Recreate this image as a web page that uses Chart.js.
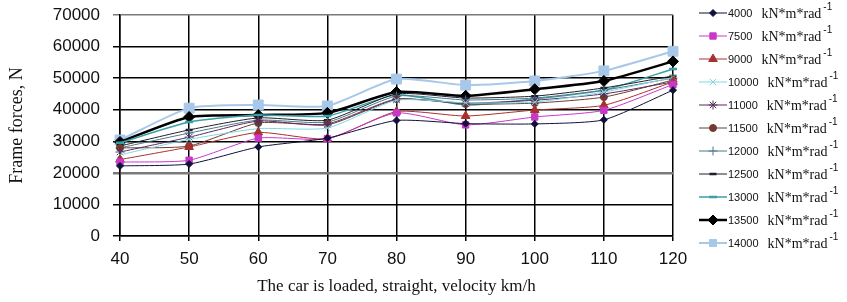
<!DOCTYPE html>
<html>
<head>
<meta charset="utf-8">
<script src="https://cdn.jsdelivr.net/npm/chart.js@4"></script>
<style>
  html, body { margin: 0; padding: 0; background: #fff; }
  #wrap { width: 847px; height: 302px; }
</style>
</head>
<body>
<div id="wrap"><canvas id="frame"></canvas></div>
<script>
// Velocity, km/h (x axis)
const velocities = ['40', '50', '60', '70', '80', '90', '100', '110', '120'];

// Stiffness values shown in the legend, kN*m*rad^-1
const stiffness = ['4000', '7500', '9000', '10000', '11000', '11500', '12000', '12500', '13000', '13500', '14000'];

// Frame forces, N
const f4000  = [22200, 22800, 28200, 31000, 36600, 35600, 35500, 36800, 46200];
const f7500  = [23400, 24000, 31000, 30800, 39000, 35200, 37700, 39800, 48000];
const f9000  = [24200, 28200, 32800, 30800, 39400, 38000, 39900, 41400, 48800];
const f10000 = [25700, 30600, 34000, 34200, 43000, 42200, 42400, 45600, 50200];
const f11000 = [26600, 31300, 36400, 35200, 43200, 42100, 43000, 45000, 48800];
const f11500 = [27900, 28500, 35800, 35500, 43400, 41800, 42100, 44000, 49400];
const f12000 = [27900, 32600, 36700, 36100, 44300, 43100, 43700, 46200, 50000];
const f12500 = [28500, 33600, 37400, 36700, 45000, 43700, 44300, 46900, 50700];
const f13000 = [29500, 36100, 38300, 38000, 44700, 41500, 43400, 46200, 52900];
const f13500 = [29800, 37700, 38300, 39000, 45600, 44400, 46500, 49100, 55300];
const f14000 = [30400, 40500, 41500, 41200, 49700, 47800, 49100, 52300, 58500];

const seriesData = [f4000, f7500, f9000, f10000, f11000, f11500, f12000, f12500, f13000, f13500, f14000];

const styles = [
  {color: '#10103a', point: 'rectRot',  r: 3.5, w: 1},
  {color: '#c838c8', point: 'rect',     r: 4.5, w: 1},
  {color: '#a8302c', point: 'triangle', r: 5,   w: 1},
  {color: '#7fd8e0', point: 'crossRot', r: 4.5, w: 1},
  {color: '#5a2a5e', point: 'star',     r: 4.5, w: 1},
  {color: '#6e3a32', point: 'circle',   r: 3.5, w: 1},
  {color: '#4c7888', point: 'cross',    r: 4.5, w: 1},
  {color: '#1e1e2a', point: 'line',     r: 3.5, w: 1},
  {color: '#38a0a8', point: 'line',     r: 4,   w: 1.5},
  {color: '#000000', point: 'rectRot',  r: 5.5, w: 2.5},
  {color: '#a8c8ea', point: 'rect',     r: 7,   w: 2}
];

const datasets = seriesData.map((d, i) => ({
  label: stiffness[i],
  data: d,
  borderColor: styles[i].color,
  backgroundColor: styles[i].color,
  pointBackgroundColor: styles[i].color,
  pointBorderColor: styles[i].color,
  pointStyle: styles[i].point,
  pointRadius: styles[i].r,
  pointBorderWidth: styles[i].point === 'line' ? 2.5 : 1,
  borderWidth: styles[i].w,
  tension: 0.2,
  fill: false
}));

/* Legend on the right, drawn by hand so it can carry line + marker + superscript. */
const sideLegend = {
  id: 'sideLegend',
  afterDraw(chart) {
    const ctx = chart.ctx;
    chart.data.datasets.forEach((ds, i) => {
      const y = 13 + i * 23;
      ctx.save();
      ctx.strokeStyle = ds.borderColor;
      ctx.lineWidth = ds.borderWidth;
      ctx.beginPath();
      ctx.moveTo(699, y);
      ctx.lineTo(727, y);
      ctx.stroke();
      ctx.fillStyle = ds.pointBackgroundColor;
      ctx.strokeStyle = ds.pointBorderColor;
      ctx.lineWidth = ds.pointBorderWidth;
      Chart.helpers.drawPoint(ctx, {pointStyle: ds.pointStyle, radius: Math.min(ds.pointRadius, 5), rotation: 0, borderWidth: ds.pointBorderWidth}, 713, y);
      ctx.fillStyle = '#111';
      ctx.textBaseline = 'middle';
      ctx.font = '11px "Liberation Sans", Arial, sans-serif';
      ctx.fillText(ds.label, 728, y + 1);
      const nx = 728 + ctx.measureText(ds.label).width + 9;
      ctx.font = '14px "Liberation Serif", "Times New Roman", serif';
      ctx.fillText('kN*m*rad', nx, y + 1);
      const sx = nx + ctx.measureText('kN*m*rad').width + 2;
      ctx.font = '10px "Liberation Sans", Arial, sans-serif';
      ctx.fillText('-1', sx, y - 6);
      ctx.restore();
    });
  }
};

const gridColor = (ctx) => {
  const v = ctx.tick ? ctx.tick.value : null;
  return (v === 20000 || v === 70000) ? '#7a7a7a' : '#000';
};
const gridWidth = (ctx) => {
  const v = ctx.tick ? ctx.tick.value : null;
  return v === 20000 ? 2.5 : 1.5;
};

new Chart(document.getElementById('frame'), {
  type: 'line',
  data: { labels: velocities, datasets: datasets },
  options: {
    responsive: true,
    maintainAspectRatio: false,
    animation: false,
    layout: { padding: { left: 0, right: 174, top: 15, bottom: 0 } },
    plugins: {
      legend: { display: false },
      tooltip: { enabled: false }
    },
    scales: {
      x: {
        offset: false,
        afterFit(scale) { scale.height = 66; },
        grid: { color: '#000', lineWidth: 1.5, tickLength: 5, drawTicks: true },
        border: { color: '#000', width: 1.5 },
        ticks: {
          color: '#111',
          padding: 8,
          maxRotation: 0,
          font: { family: '"Liberation Sans", Arial, sans-serif', size: 17 }
        },
        title: {
          display: true,
          text: 'The car is loaded, straight, velocity km/h',
          color: '#111',
          padding: { top: 2, bottom: 5 },
          font: { family: '"Liberation Serif", "Times New Roman", serif', size: 17 }
        }
      },
      y: {
        min: 0,
        max: 70000,
        afterFit(scale) {
          scale.width = 120;
          scale.paddingTop = 0;
          scale.paddingBottom = 0;
        },
        grid: { color: gridColor, lineWidth: gridWidth, tickLength: 7 },
        border: { color: '#000', width: 1.5 },
        ticks: {
          stepSize: 10000,
          color: '#111',
          padding: 13,
          callback: (v) => String(v),
          font: { family: '"Liberation Sans", Arial, sans-serif', size: 17 }
        },
        title: {
          display: true,
          text: 'Frame forces, N',
          color: '#111',
          padding: { top: 6, bottom: 2 },
          font: { family: '"Liberation Serif", "Times New Roman", serif', size: 18 }
        }
      }
    }
  },
  plugins: [sideLegend]
});
</script>
</body>
</html>
